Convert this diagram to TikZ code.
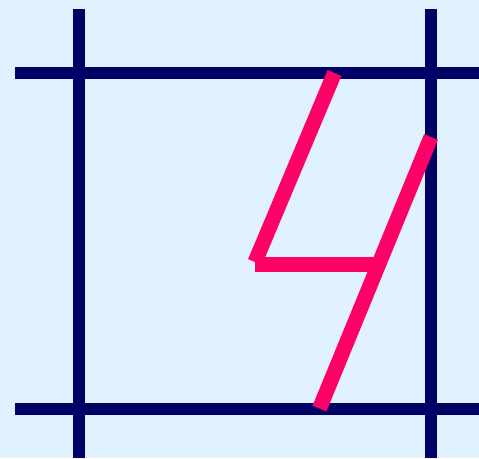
\documentclass[tikz,border=0pt]{standalone}
\definecolor{bgblue}{HTML}{E0F2FE}
\definecolor{navy}{HTML}{000066}
\definecolor{hotpink}{HTML}{FF0066}
\tikzset{
  gridline/.style={draw=navy, line width=12pt},
  strokepink/.style={draw=hotpink, line width=15pt},
}
\begin{document}
\begin{tikzpicture}[x=1pt, y=-1pt]
\fill[bgblue] (0,0) rectangle (479,458);
\useasboundingbox (0,0) rectangle (479,458);
% grid
\coordinate (v1t) at (79,9);   \coordinate (v1b) at (79,458);
\coordinate (v2t) at (431,9);  \coordinate (v2b) at (431,458);
\coordinate (h1l) at (15,73);  \coordinate (h1r) at (479,73);
\coordinate (h2l) at (15,409); \coordinate (h2r) at (479,409);
\draw[gridline] (v1t) -- (v1b);
\draw[gridline] (v2t) -- (v2b);
\draw[gridline] (h1l) -- (h1r);
\draw[gridline] (h2l) -- (h2r);
% digit 4
\coordinate (a1) at (334.5,73);
\coordinate (a2) at (255,262);
\coordinate (b1) at (255,264.5);
\coordinate (b2) at (377,264.5);
\coordinate (c1) at (431,137);
\coordinate (c2) at (319.5,408.5);
\draw[strokepink] (a1) -- (a2);
\draw[strokepink] (b1) -- (b2);
\draw[strokepink] (c1) -- (c2);
\end{tikzpicture}
\end{document}
